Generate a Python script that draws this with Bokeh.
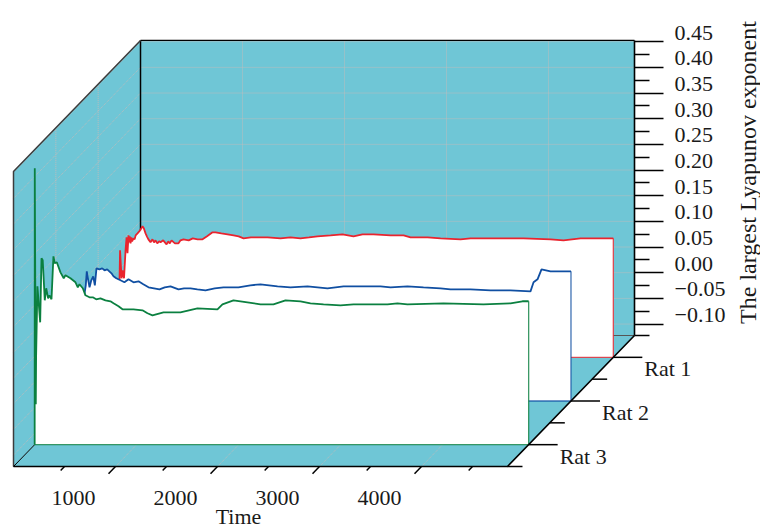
import numpy as np
from bokeh.core.properties import value
from bokeh.embed import file_html
from bokeh.models import CustomJSTickFormatter, FixedTicker, LinearAxis, Range1d
from bokeh.plotting import figure
from bokeh.resources import INLINE

# ---- data ----
rat_names = ["Rat 1", "Rat 2", "Rat 3"]
rat_depths = [5 / 6, 3 / 6, 1 / 6]
rat_colors = ["#E9242E", "#104FA2", "#0B8040"]

time_major = [1000, 2000, 3000, 4000]
time_minor = [500, 1500, 2500, 3500, 4500]
value_major = [-0.10, -0.05, 0.00, 0.05, 0.10, 0.15, 0.20, 0.25, 0.30, 0.35, 0.40, 0.45]
value_minor = [-0.075, -0.025, 0.025, 0.075, 0.125, 0.175, 0.225, 0.275, 0.325, 0.375, 0.425]
depth_grid = [1 / 3, 2 / 3]
depth_ticks = [0.0, 1 / 3, 2 / 3, 1.0]

rat1_t = [2, 7, 22, 31, 46, 61, 71, 80, 90, 96, 102, 110, 118, 125, 139, 150, 160, 178, 195, 210, 227, 240,
          257, 270, 285, 306, 325, 340, 355, 372, 390, 404, 430, 463, 480, 495, 512, 545, 580, 600,
          629, 680, 720, 767, 816, 860, 914, 943, 1000, 1061, 1120, 1170, 1218, 1290, 1355, 1453, 1580, 1678, 1776,
          1860, 1943, 2071, 2188, 2296, 2384, 2492, 2659, 2787, 2855, 3022, 3149, 3345, 3443, 3708, 3963, 4227,
          4355, 4522, 4843]
rat1_v = [.0277, .0861, .0316, .0471, .0316, .0861, .1114, .0803, .1153, .1017, .1134, .0997, .1114, .1036,
          .1095, .1075, .1153, .1192, .1231, .1270, .1329, .1290, .1192, .1134, .1075, .1017, .1075, .1017,
          .1056, .0997, .1036, .1017, .1056, .0978, .1036, .0997, .1056, .0997, .0997, .1056,
          .1075, .1056, .1095, .1075, .1075, .1134, .1212, .1212, .1192, .1173, .1153, .1134, .1095, .1114, .1114,
          .1114, .1095, .1114, .1095, .1114, .1134, .1153, .1173, .1134, .1173, .1173, .1153, .1153, .1114,
          .1114, .1095, .1075, .1095, .1095, .1095, .1075, .1056, .1095, .1095]

rat2_t = [15, 64, 86, 96, 105, 123, 140, 159, 175, 191, 220, 247, 270, 296, 338, 358, 385, 426, 465, 505, 554,
          603, 650, 701, 755, 809, 860, 917, 995, 1050,
          1113, 1180, 1260, 1350, 1436, 1583, 1700, 1799, 1966, 2093, 2260, 2456, 2613, 2800, 2976, 3074, 3240,
          3397, 3564, 3662, 3858, 4054, 4250, 4446, 4476, 4515, 4554, 4642, 4843]
rat2_v = [.0738, .0738, .1030, .1303, .1186, .0991, .1128, .1206, .1030, .1361, .1342, .1361, .1323, .1342,
          .1264, .1206, .1167, .1128, .1089, .1147, .1089, .1108, .1050, .0991, .0972, .0952, .0991, .1011,
          .0952, .0972, .0972, .0952, .0933, .0972, .0991, .0991, .1030, .1050, .1011, .0991, .1011,
          .0972, .1011, .1011, .1011, .0991, .1011, .0991, .0972, .0952, .0952, .0933, .0933, .0913, .1089, .1147,
          .1342, .1303, .1303]

rat3_t = [1, 11, 14, 27, 54, 67, 79, 99, 113, 132, 145, 165, 184, 197, 217, 253, 285, 302, 351, 400, 423,
          439, 472, 498, 537, 570, 603, 645, 694, 743, 773, 822, 861, 969, 1057, 1106, 1155, 1263, 1429,
          1596, 1792, 1841, 1949, 2086, 2214, 2341, 2459, 2606, 2704, 2832, 2998, 3126, 3459, 3557, 3655,
          4008, 4400, 4665, 4782, 4831, 4843]
rat3_v = [.4160, -.0437, .0479, .1862, .1160, .2407, .2368, .1589, .1823, .1628, .1686, .1608, .2446, .2310,
          .2329, .2134, .2018, .2076, .2018, .1940, .1842, .1901, .1823, .1686, .1647, .1647, .1608, .1628,
          .1589, .1570, .1531, .1472, .1414, .1414, .1394, .1336, .1297, .1355, .1355, .1433, .1414, .1511,
          .1589, .1550, .1511, .1511, .1589, .1570, .1531, .1511, .1492, .1511, .1511, .1531, .1511, .1531,
          .1511, .1531, .1570, .1570, .1570]

series_t = [rat1_t, rat2_t, rat3_t]
series_v = [rat1_v, rat2_v, rat3_v]

T_MAX = 4843
V_MIN, V_MAX = -0.1223, 0.4525

# ---- oblique projection onto the page ----
X0, Y0 = 13.0, 466.0
PX_PER_T = 0.102
PX_PER_V = 513.4
DEPTH_X, DEPTH_Y = 127.0, 131.0


def px(t, d=0.0):
    return X0 + np.asarray(t, dtype=float) * PX_PER_T + np.asarray(d, dtype=float) * DEPTH_X


def py(v, d=0.0):
    return Y0 - (np.asarray(v, dtype=float) - V_MIN) * PX_PER_V - np.asarray(d, dtype=float) * DEPTH_Y


TOP, BOTTOM = 0, 529
LEFT, RIGHT = 0, 760

p = figure(width=RIGHT - LEFT, height=BOTTOM - TOP, output_backend="svg", toolbar_location=None,
           x_range=Range1d(LEFT, RIGHT), y_range=Range1d(BOTTOM, TOP),
           x_axis_location=None, y_axis_location=None, min_border=0, outline_line_color=None)
p.grid.visible = False

WALL = "#6FC6D6"
GRID = "#BDBDBD"
FONT = value("Liberation Serif")
TXT = "#1a1a1a"
SIZE = "22px"

# walls
p.patch([px(0, 1), px(T_MAX, 1), px(T_MAX, 1), px(0, 1)],
        [py(V_MAX, 1), py(V_MAX, 1), py(V_MIN, 1), py(V_MIN, 1)],
        fill_color=WALL, line_color=None)
p.patch([px(0, 0), px(0, 1), px(0, 1), px(0, 0)],
        [py(V_MAX, 0), py(V_MAX, 1), py(V_MIN, 1), py(V_MIN, 0)],
        fill_color=WALL, line_color=None)
p.patch([px(0, 0), px(T_MAX, 0), px(T_MAX, 1), px(0, 1)],
        [py(V_MIN, 0), py(V_MIN, 0), py(V_MIN, 1), py(V_MIN, 1)],
        fill_color=WALL, line_color=None)

# grids
vm = np.array(value_major)
tm = np.array(time_major)
dg = np.array(depth_grid)
grid_kw = dict(line_color=GRID, line_width=1, line_dash="1 1")
p.segment(px(0, 1) * np.ones_like(vm), py(vm, 1), px(T_MAX, 1) * np.ones_like(vm), py(vm, 1), **grid_kw)
p.segment(px(0, 0) * np.ones_like(vm), py(vm, 0), px(0, 1) * np.ones_like(vm), py(vm, 1), **grid_kw)
p.segment(px(tm, 1), py(V_MIN, 1) * np.ones_like(tm), px(tm, 1), py(V_MAX, 1) * np.ones_like(tm), **grid_kw)
p.segment(px(tm, 0), py(V_MIN, 0) * np.ones_like(tm), px(tm, 1), py(V_MIN, 1) * np.ones_like(tm), **grid_kw)
p.segment(px(0, dg), py(V_MIN, dg), px(0, dg), py(V_MAX, dg), **grid_kw)

# box edges
p.line([px(0, 1), px(0, 1)], [py(V_MIN, 1), py(V_MAX, 1)], line_color="#000000", line_width=1.5)
p.line([px(0, 1), px(T_MAX, 1)], [py(V_MAX, 1), py(V_MAX, 1)], line_color="#000000", line_width=1.2)
p.line([px(0, 1), px(T_MAX, 1)], [py(V_MIN, 1), py(V_MIN, 1)], line_color="#555555", line_width=1)
p.line([px(0, 0), px(0, 0), px(0, 1)], [py(V_MIN, 0), py(V_MAX, 0), py(V_MAX, 1)],
       line_color="#3c3c3c", line_width=1.5)
p.line([px(0, 0), px(0, 1)], [py(V_MIN, 0), py(V_MIN, 1)], line_color="#000000", line_width=1)

# waterfall curtains, back to front
for name, d, color, t, v in zip(rat_names, rat_depths, rat_colors, series_t, series_v):
    xs = np.concatenate([[px(0, d)], px(t, d), [px(T_MAX, d)]])
    ys = np.concatenate([[py(V_MIN, d)], py(v, d), [py(V_MIN, d)]])
    p.patch(xs, ys, fill_color="#FFFFFF", line_color=None)
    p.line([px(0, d), px(T_MAX, d), px(T_MAX, d)], [py(V_MIN, d), py(V_MIN, d), py(v[-1], d)],
           line_color=color, line_width=1.3, line_alpha=0.8)
    p.line(xs[:-1], ys[:-1], line_color=color, line_width=1.8)

# floor front edges
p.line([px(0, 0), px(T_MAX, 0), px(T_MAX, 1)], [py(V_MIN, 0), py(V_MIN, 0), py(V_MIN, 1)],
       line_color="#000000", line_width=1.6)

# time ticks (slanted along the depth direction)
for ticks, frac in ((time_major, 1.0), (time_minor, 0.55)):
    tt = np.array(ticks)
    p.segment(px(tt, 0), py(V_MIN, 0) * np.ones_like(tt),
              px(tt, -0.055 * frac), py(V_MIN, -0.055 * frac) * np.ones_like(tt),
              line_color="#000000", line_width=1.5)
p.text(px(time_major, -0.33), py(V_MIN, -0.238) * np.ones(len(time_major)),
       text=[str(t) for t in time_major], text_font=FONT, text_font_size=SIZE, text_color=TXT,
       text_align="center", text_baseline="middle")
p.text([238], [516], text=["Time"], text_font=FONT, text_font_size=SIZE, text_color=TXT,
       text_align="center", text_baseline="middle")

# depth (rat) ticks
rd = np.array(rat_depths)
p.segment(px(T_MAX, rd), py(V_MIN, rd), px(T_MAX, rd) + 29, py(V_MIN, rd), line_color="#000000", line_width=1.5)
dt = np.array(depth_ticks)
p.segment(px(T_MAX, dt), py(V_MIN, dt), px(T_MAX, dt) + 15, py(V_MIN, dt), line_color="#000000", line_width=1.5)
p.text(px(T_MAX, rd) + 31, py(V_MIN, rd) + 11.5, text=rat_names, text_font=FONT, text_font_size=SIZE,
       text_color=TXT, text_align="left", text_baseline="middle")


# value axis on the back-right edge, with a real scale
def val_at(y, shift=0.0):
    return V_MAX - (y - py(V_MAX, 1) + shift) / PX_PER_V


p.extra_y_ranges = {
    "value": Range1d(val_at(BOTTOM), val_at(TOP)),
    "value_labels": Range1d(val_at(BOTTOM, 9.0), val_at(TOP, 9.0)),
}
ax = LinearAxis(y_range_name="value", fixed_location=float(px(T_MAX, 1)), bounds=(V_MIN, V_MAX),
                ticker=FixedTicker(ticks=value_major, minor_ticks=value_minor))
ax.major_tick_in = 0
ax.major_tick_out = 29
ax.minor_tick_in = 0
ax.minor_tick_out = 15
ax.major_tick_line_width = 1.5
ax.minor_tick_line_width = 1.5
ax.major_tick_line_color = "#000000"
ax.minor_tick_line_color = "#000000"
ax.axis_line_width = 1.6
ax.axis_line_color = "#000000"
ax.major_label_text_color = None
p.add_layout(ax, "right")

ax2 = LinearAxis(y_range_name="value_labels", fixed_location=float(px(T_MAX, 1)),
                 ticker=FixedTicker(ticks=value_major),
                 formatter=CustomJSTickFormatter(code="return tick.toFixed(2).replace('-', '\u2212')"))
ax2.axis_line_color = None
ax2.major_tick_line_color = None
ax2.minor_tick_line_color = None
ax2.major_tick_in = 0
ax2.major_tick_out = 0
ax2.major_label_standoff = 40
ax2.major_label_text_font = "Liberation Serif"
ax2.major_label_text_font_size = SIZE
ax2.major_label_text_color = TXT
p.add_layout(ax2, "right")

p.text([747], [172], text=["The largest Lyapunov exponent"], angle=np.pi / 2, text_font=FONT,
       text_font_size="24px", text_color=TXT, text_align="center", text_baseline="middle")

open("out.html", "w").write(file_html(p, INLINE))
